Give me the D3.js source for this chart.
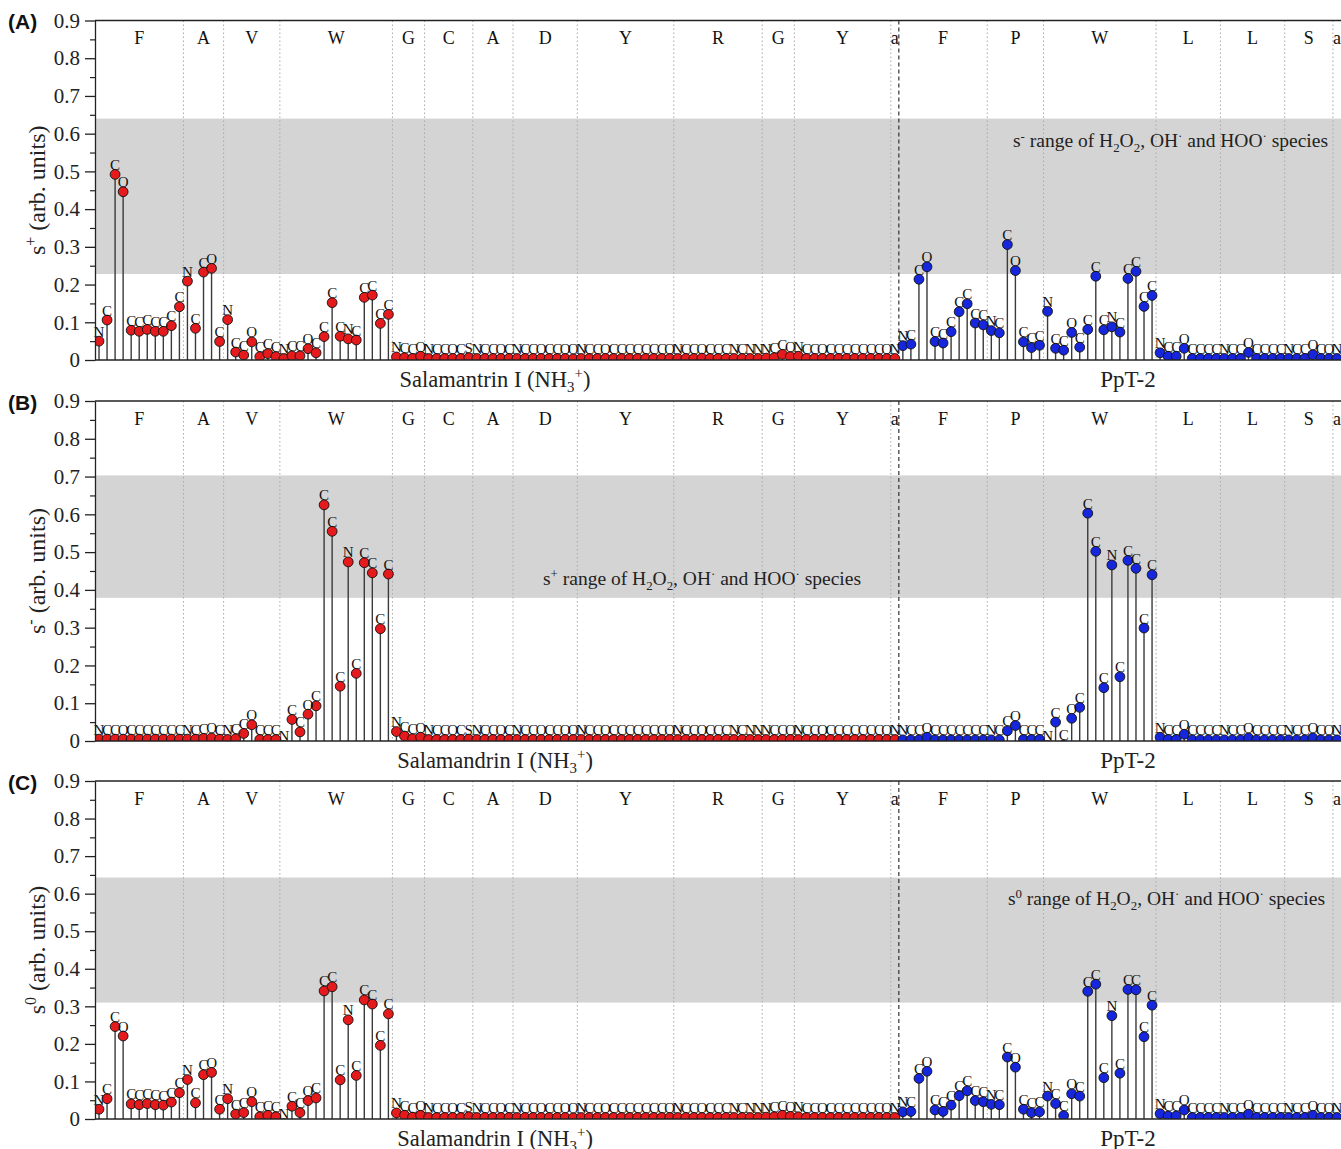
<!DOCTYPE html>
<html>
<head>
<meta charset="utf-8">
<script src="https://cdn.jsdelivr.net/npm/d3@7"></script>
<style>
  body { margin: 0; background: #fff; }
  svg { display: block; font-family: "Liberation Serif", "Times New Roman", serif; }
</style>
</head>
<body>
<svg id="chart" width="1341" height="1149"></svg>
<script>
// residue sequences and the heavy atoms of every residue, in output order
const salSeq = ["F", "A", "V", "W", "G", "C", "A", "D", "Y", "R", "G", "Y", "a"];
const pptSeq = ["F", "P", "W", "L", "L", "S", "a"];
const atomNames = {
  F: "NCCOCCCCCCC", A: "NCCOC", V: "NCCOCCC", W: "NCCOCCCCNCCCCC", G: "NCCO",
  C: "NCCOCS", D: "NCCOCCOO", Y: "NCCOCCCCCCCO", R: "NCCOCCCNCNN",
  P: "NCCOCCC", L: "NCCOCCCC", S: "NCCOCO", a: "N"
};

const tickValues = [0, 0.1, 0.2, 0.3, 0.4, 0.5, 0.6, 0.7, 0.8, 0.9];
const tickLabels = ["0", "0.1", "0.2", "0.3", "0.4", "0.5", "0.6", "0.7", "0.8", "0.9"];
const minorTicks = [0.05, 0.15, 0.25, 0.35, 0.45, 0.55, 0.65, 0.75, 0.85];

// s+ (panel A)
const sPlusSal = [
  0.050, 0.106, 0.492, 0.446, 0.079, 0.076, 0.081, 0.076, 0.076, 0.091, 0.141, // F
  0.209, 0.084, 0.233, 0.243, 0.049,                                            // A
  0.107, 0.021, 0.013, 0.048, 0.009, 0.017, 0.009,                              // V
  0.004, 0.011, 0.011, 0.030, 0.019, 0.062, 0.152, 0.063, 0.056, 0.053, 0.166, 0.172, 0.097, 0.121, // W
  0.008, 0.006, 0.004, 0.010,                                                   // G
  0.004, 0.004, 0.004, 0.004, 0.004, 0.006,                                     // C
  0.004, 0.004, 0.004, 0.004, 0.004,                                            // A
  0.004, 0.004, 0.004, 0.004, 0.004, 0.004, 0.004, 0.003,                       // D
  0.004, 0.004, 0.004, 0.004, 0.004, 0.004, 0.004, 0.004, 0.004, 0.004, 0.004, 0.004, // Y
  0.004, 0.004, 0.004, 0.005, 0.004, 0.004, 0.004, 0.004, 0.004, 0.004, 0.004, // R
  0.005, 0.006, 0.015, 0.009,                                                   // G
  0.010, 0.004, 0.004, 0.004, 0.004, 0.004, 0.004, 0.004, 0.004, 0.004, 0.004, 0.004, // Y
  0.004                                                                         // a
];
const sPlusPpt = [
  0.038, 0.042, 0.214, 0.247, 0.049, 0.045, 0.075, 0.128, 0.149, 0.098, 0.093, // F
  0.078, 0.072, 0.306, 0.237, 0.048, 0.033, 0.039,                              // P
  0.129, 0.031, 0.026, 0.073, 0.034, 0.081, 0.222, 0.080, 0.088, 0.074, 0.216, 0.235, 0.142, 0.171, // W
  0.019, 0.010, 0.010, 0.031, 0.004, 0.004, 0.004, 0.004,                       // L
  0.004, 0.004, 0.004, 0.020, 0.004, 0.004, 0.004, 0.004,                       // L
  0.004, 0.004, 0.004, 0.014, 0.004, 0.004,                                     // S
  0.004                                                                         // a
];

// s- (panel B)
const sMinusSal = [
  0.005, 0.005, 0.005, 0.005, 0.005, 0.005, 0.005, 0.005, 0.005, 0.005, 0.005, // F
  0.005, 0.005, 0.007, 0.008, 0.005,                                            // A
  0.004, 0.006, 0.020, 0.043, 0.004, 0.004, 0.004,                              // V
  -0.012, 0.057, 0.024, 0.071, 0.093, 0.625, 0.555, 0.145, 0.474, 0.179, 0.472, 0.445, 0.297, 0.442, // W
  0.025, 0.013, 0.006, 0.010,                                                   // G
  0.004, 0.004, 0.004, 0.004, 0.004, 0.005,                                     // C
  0.004, 0.004, 0.004, 0.004, 0.004,                                            // A
  0.004, 0.004, 0.004, 0.004, 0.004, 0.004, 0.004, 0.004,                       // D
  0.004, 0.004, 0.004, 0.004, 0.004, 0.004, 0.004, 0.004, 0.004, 0.004, 0.004, 0.004, // Y
  0.004, 0.004, 0.004, 0.004, 0.004, 0.004, 0.004, 0.004, 0.004, 0.004, 0.004, // R
  0.004, 0.004, 0.004, 0.004,                                                   // G
  0.004, 0.004, 0.004, 0.004, 0.004, 0.004, 0.004, 0.004, 0.004, 0.004, 0.004, 0.004, // Y
  0.004                                                                         // a
];
const sMinusPpt = [
  0.003, 0.003, 0.003, 0.010, 0.003, 0.003, 0.003, 0.003, 0.003, 0.003, 0.003, // F
  0.003, 0.003, 0.027, 0.041, 0.004, 0.004, 0.004,                              // P
  -0.012, 0.050, -0.010, 0.060, 0.089, 0.603, 0.502, 0.141, 0.466, 0.170, 0.478, 0.457, 0.299, 0.440, // W
  0.010, 0.004, 0.004, 0.018, 0.003, 0.003, 0.003, 0.003,                       // L
  0.003, 0.003, 0.003, 0.008, 0.003, 0.003, 0.003, 0.003,                       // L
  0.003, 0.003, 0.003, 0.008, 0.003, 0.003,                                     // S
  0.003                                                                         // a
];

// s0 (panel C)
const sZeroSal = [
  0.026, 0.054, 0.246, 0.221, 0.040, 0.038, 0.041, 0.038, 0.037, 0.045, 0.070, // F
  0.105, 0.043, 0.118, 0.124, 0.026,                                            // A
  0.054, 0.013, 0.017, 0.046, 0.006, 0.010, 0.006,                              // V
  -0.012, 0.034, 0.017, 0.049, 0.056, 0.341, 0.352, 0.104, 0.264, 0.116, 0.317, 0.306, 0.196, 0.280, // W
  0.016, 0.010, 0.005, 0.010,                                                   // G
  0.004, 0.004, 0.004, 0.004, 0.004, 0.006,                                     // C
  0.004, 0.004, 0.004, 0.004, 0.004,                                            // A
  0.004, 0.004, 0.004, 0.004, 0.004, 0.004, 0.004, 0.003,                       // D
  0.004, 0.004, 0.004, 0.004, 0.004, 0.004, 0.004, 0.004, 0.004, 0.004, 0.004, 0.004, // Y
  0.004, 0.004, 0.004, 0.004, 0.004, 0.004, 0.004, 0.004, 0.004, 0.004, 0.004, // R
  0.005, 0.006, 0.010, 0.007,                                                   // G
  0.006, 0.004, 0.004, 0.004, 0.004, 0.004, 0.004, 0.004, 0.004, 0.004, 0.004, 0.004, // Y
  0.004                                                                         // a
];
const sZeroPpt = [
  0.019, 0.020, 0.108, 0.127, 0.024, 0.020, 0.037, 0.062, 0.075, 0.049, 0.046, // F
  0.039, 0.038, 0.165, 0.138, 0.026, 0.017, 0.019,                              // P
  0.061, 0.041, 0.009, 0.067, 0.061, 0.340, 0.359, 0.110, 0.275, 0.122, 0.345, 0.344, 0.219, 0.303, // W
  0.014, 0.008, 0.008, 0.024, 0.004, 0.004, 0.004, 0.004,                       // L
  0.004, 0.004, 0.004, 0.013, 0.004, 0.004, 0.004, 0.004,                       // L
  0.004, 0.004, 0.004, 0.010, 0.004, 0.004,                                     // S
  0.004                                                                         // a
];

// shaded ranges of the H2O2, OH and HOO species
const bandA = [0.228, 0.640];
const bandB = [0.379, 0.703];
const bandC = [0.310, 0.643];

const svg = d3.select("#chart");
const W = 1341;
const red = "#e41a1c", blue = "#1626dc";

// flatten both molecules into one list of atoms
const atoms = [], residues = [];
[salSeq, pptSeq].forEach((seq, mol) => {
  seq.forEach(r => {
    const start = atoms.length;
    [...atomNames[r]].forEach(a => atoms.push({ atom: a, mol }));
    residues.push({ name: r, mol, start, end: atoms.length - 1 });
  });
});

const x = d3.scaleLinear().domain([-0.5, atoms.length + 0.5]).range([95, 1349]);

// text with sub/superscripts
function rich(t, parts, fs) {
  let shift = 0;
  parts.forEach(([s, k]) => {
    const target = k === "sup" ? -0.36 * fs : k === "sub" ? 0.24 * fs : 0;
    t.append("tspan").attr("dy", target - shift)
      .attr("font-size", k ? fs * 0.66 : fs).text(s);
    shift = target;
  });
}

const panels = [
  { tag: "(A)", top: 20.5, bottom: 360, sal: sPlusSal, ppt: sPlusPpt, band: bandA, sym: "+",
    noteSym: "-", noteX: 1328, noteAnchor: "end", noteY: 147, salName: "Salamantrin I (NH" },
  { tag: "(B)", top: 401, bottom: 741, sal: sMinusSal, ppt: sMinusPpt, band: bandB, sym: "-",
    noteSym: "+", noteX: 702, noteAnchor: "middle", noteY: 585, salName: "Salamandrin I (NH" },
  { tag: "(C)", top: 781, bottom: 1119, sal: sZeroSal, ppt: sZeroPpt, band: bandC, sym: "0",
    noteSym: "0", noteX: 1325, noteAnchor: "end", noteY: 905, salName: "Salamandrin I (NH" }
];

panels.forEach((p, pi) => {
  const g = svg.append("g");
  const y = d3.scaleLinear().domain([0, 0.9]).range([p.bottom, p.top]);
  const vals = p.sal.concat(p.ppt);
  const pts = atoms.map((a, i) => ({ ...a, i, v: vals[i] }));

  const clipId = "clip" + pi;
  svg.append("clipPath").attr("id", clipId).append("rect")
    .attr("x", x(-0.5)).attr("y", p.top)
    .attr("width", x(atoms.length + 0.5) - x(-0.5)).attr("height", p.bottom - p.top);

  // grey band
  g.append("rect")
    .attr("x", x(-0.5)).attr("width", x(atoms.length + 0.5) - x(-0.5))
    .attr("y", y(p.band[1])).attr("height", y(p.band[0]) - y(p.band[1]))
    .attr("fill", "#d4d4d4");

  // residue separators
  const seps = residues.slice(0, -1).map((r, k) => ({ pos: r.end + 0.5, mol: r.mol, next: residues[k + 1].mol }));
  g.selectAll(".sep").data(seps).enter().append("line")
    .attr("x1", d => x(d.pos)).attr("x2", d => x(d.pos))
    .attr("y1", p.top).attr("y2", p.bottom)
    .attr("stroke", d => d.mol !== d.next ? "#222" : "#a8a8a8")
    .attr("stroke-width", d => d.mol !== d.next ? 1.1 : 1)
    .attr("stroke-dasharray", d => d.mol !== d.next ? "4,3" : "1.5,2.5");

  // residue names
  g.selectAll(".res").data(residues).enter().append("text")
    .attr("x", d => x((d.start + d.end) / 2)).attr("y", p.top + 23.5)
    .attr("text-anchor", "middle").attr("font-size", 18).attr("fill", "#111")
    .text(d => d.name);

  // annotation in the band
  const note = g.append("text").attr("x", p.noteX).attr("y", p.noteY)
    .attr("text-anchor", p.noteAnchor).attr("fill", "#222");
  rich(note, [["s"], [p.noteSym, "sup"], [" range of H"], ["2", "sub"], ["O"], ["2", "sub"],
    [", OH"], ["·", "sup"], [" and HOO"], ["·", "sup"], [" species"]], 19.5);

  // stems, labels, markers
  const marks = g.append("g").attr("clip-path", `url(#${clipId})`);
  marks.selectAll(".stem").data(pts).enter().append("line")
    .attr("x1", d => x(d.i)).attr("x2", d => x(d.i))
    .attr("y1", y(0)).attr("y2", d => y(d.v))
    .attr("stroke", "#3a3a3a").attr("stroke-width", 1.4);
  g.selectAll(".lab").data(pts).enter().append("text")
    .attr("x", d => x(d.i)).attr("y", d => y(d.v) - 4.5)
    .attr("text-anchor", "middle").attr("font-size", 15).attr("fill", "#111")
    .text(d => d.atom);
  marks.selectAll(".dot").data(pts).enter().append("circle")
    .attr("cx", d => x(d.i)).attr("cy", d => y(d.v)).attr("r", 4.9)
    .attr("fill", d => d.mol === 0 ? red : blue)
    .attr("stroke", "#111").attr("stroke-width", 0.9);

  // axes
  const ax = g.append("g").attr("transform", `translate(${x(-0.5)},0)`)
    .call(d3.axisLeft(y).tickValues(tickValues).tickFormat((d, i) => tickLabels[i])
      .tickSize(10).tickSizeOuter(0).tickPadding(5));
  ax.selectAll("text").attr("font-family", "Liberation Serif").attr("font-size", 21).attr("fill", "#222");
  ax.selectAll("path, line").attr("stroke", "#222").attr("stroke-width", 1.3);
  const mn = g.append("g").attr("transform", `translate(${x(-0.5)},0)`)
    .call(d3.axisLeft(y).tickValues(minorTicks).tickFormat("").tickSize(5).tickSizeOuter(0));
  mn.select(".domain").remove();
  mn.selectAll("line").attr("stroke", "#222").attr("stroke-width", 1.2);

  [p.top, p.bottom].forEach(yy => g.append("line")
    .attr("x1", x(-0.5)).attr("x2", W).attr("y1", yy).attr("y2", yy)
    .attr("stroke", "#222").attr("stroke-width", 1.3));

  // y title
  const yt = g.append("text")
    .attr("transform", `translate(45,${(p.top + p.bottom) / 2}) rotate(-90)`)
    .attr("text-anchor", "middle").attr("fill", "#222");
  rich(yt, [["s"], [p.sym, "sup"], [" (arb. units)"]], 24);

  // molecule names below the axis
  const sn = g.append("text").attr("x", 495).attr("y", p.bottom + 26.5)
    .attr("text-anchor", "middle").attr("fill", "#222");
  rich(sn, [[p.salName], ["3", "sub"], ["+", "sup"], [")"]], 22.5);
  g.append("text").attr("x", 1128).attr("y", p.bottom + 26.5)
    .attr("text-anchor", "middle").attr("font-size", 23).attr("fill", "#222").text("PpT-2");

  // panel tag
  g.append("text").attr("x", 8).attr("y", p.top + 8.5)
    .attr("font-family", "Liberation Sans, Arial, sans-serif").attr("font-weight", "bold")
    .attr("font-size", 21).attr("fill", "#111").text(p.tag);
});
</script>
</body>
</html>
